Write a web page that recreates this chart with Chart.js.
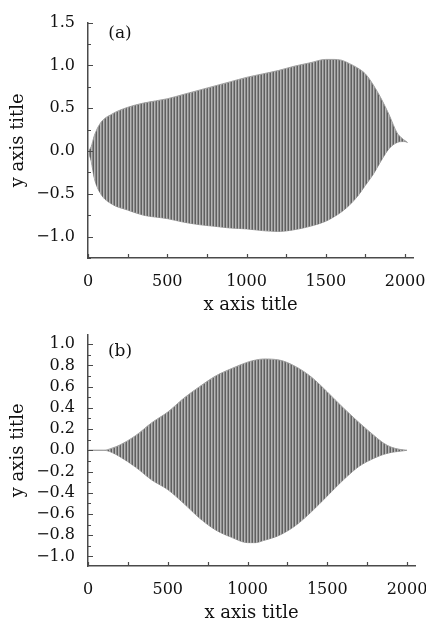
<!DOCTYPE html>
<html lang="en">
<head>
    <meta charset="UTF-8">
    <title>Envelope signals</title>
    <script src="https://cdn.jsdelivr.net/npm/chart.js"></script>
    <style>
        html, body { margin: 0; padding: 0; background: #fff; }
        canvas { display: block; }
    </style>
</head>
<body>
    <canvas id="chartA" width="426" height="312"></canvas>
    <canvas id="chartB" width="426" height="310"></canvas>

    <script>
        // ticks
        const xTicks = [0, 500, 1000, 1500, 2000];
        const aYTicks = [-1.0, -0.5, 0.0, 0.5, 1.0, 1.5];
        const bYTicks = [-1.0, -0.8, -0.6, -0.4, -0.2, 0.0, 0.2, 0.4, 0.6, 0.8, 1.0];

        // (a) envelope of the oscillation
        const aX     = [0, 20, 40, 80, 150, 250, 350, 500, 600, 700, 800, 900, 1000, 1100, 1200, 1300, 1400, 1500, 1550, 1600, 1650, 1700, 1750, 1800, 1850, 1900, 1950, 1980, 2000, 2015];
        const aUpper = [0, 0.05, 0.18, 0.33, 0.43, 0.51, 0.56, 0.61, 0.66, 0.71, 0.76, 0.81, 0.86, 0.90, 0.94, 0.99, 1.03, 1.07, 1.07, 1.06, 1.02, 0.97, 0.90, 0.77, 0.61, 0.42, 0.21, 0.15, 0.12, 0.10];
        const aLower = [0, -0.12, -0.32, -0.50, -0.62, -0.69, -0.75, -0.79, -0.83, -0.86, -0.88, -0.90, -0.91, -0.93, -0.94, -0.92, -0.88, -0.82, -0.77, -0.71, -0.63, -0.53, -0.40, -0.27, -0.11, 0.03, 0.10, 0.11, 0.11, 0.10];

        // (b) envelope
        const bX     = [0, 100, 150, 200, 300, 400, 500, 600, 700, 800, 900, 1000, 1050, 1100, 1200, 1300, 1400, 1500, 1600, 1700, 1800, 1850, 1900, 1950, 2000];
        const bUpper = [0, 0, 0.02, 0.05, 0.14, 0.26, 0.36, 0.49, 0.60, 0.70, 0.77, 0.83, 0.85, 0.86, 0.85, 0.79, 0.69, 0.55, 0.40, 0.26, 0.13, 0.07, 0.03, 0.01, 0];
        const bLower = [0, 0, -0.02, -0.06, -0.16, -0.28, -0.37, -0.50, -0.64, -0.75, -0.82, -0.87, -0.87, -0.85, -0.80, -0.71, -0.58, -0.43, -0.28, -0.15, -0.07, -0.04, -0.02, -0.01, 0];

        const FONT = "'DejaVu Serif', 'Liberation Serif', serif";
        const AXIS = '#4a4a4a';
        const INK = '#111';

        // vertical stripes to look like the dense oscillation
        function stripePattern(ctx) {
            const p = document.createElement('canvas');
            p.width = 3; p.height = 1;
            const c = p.getContext('2d');
            c.fillStyle = '#606060'; c.fillRect(0, 0, 1, 1);
            c.fillStyle = '#b6b6b6'; c.fillRect(1, 0, 1, 1);
            c.fillStyle = '#8a8a8a'; c.fillRect(2, 0, 1, 1);
            return ctx.createPattern(p, 'repeat');
        }

        function fmt(v) {
            const s = Math.abs(v).toFixed(1);
            return v < 0 ? '\u2212' + s : s;
        }

        // inward tick marks + panel label
        const decor = {
            id: 'decor',
            afterDraw(chart, args, opts) {
                const ctx = chart.ctx, xs = chart.scales.x, ys = chart.scales.y;
                const a = chart.chartArea;
                ctx.save();
                ctx.strokeStyle = AXIS;
                ctx.lineWidth = 1.2;
                ctx.beginPath();
                for (let v = 0; v <= 2000; v += 250) {
                    const px = Math.round(xs.getPixelForValue(v)) + 0.5;
                    ctx.moveTo(px, a.bottom);
                    ctx.lineTo(px, a.bottom - 4);
                }
                for (let v = opts.minorFrom; v <= opts.minorTo + 1e-9; v += opts.minorStep) {
                    const py = Math.round(ys.getPixelForValue(v)) + 0.5;
                    const major = opts.major.some(t => Math.abs(t - v) < 1e-6);
                    ctx.moveTo(a.left, py);
                    ctx.lineTo(a.left + (major ? 5 : 3), py);
                }
                ctx.stroke();
                ctx.fillStyle = INK;
                ctx.font = '17px ' + FONT;
                ctx.textAlign = 'center';
                ctx.textBaseline = 'middle';
                ctx.fillText(opts.label, a.left + 32, a.top + opts.labelDy);
                ctx.restore();
            }
        };

        function makeChart(id, xs, up, lo, yTicks, yMin, yMax, minor, label, pad) {
            const ctx = document.getElementById(id).getContext('2d');
            const fillPat = stripePattern(ctx);
            return new Chart(ctx, {
                type: 'line',
                data: {
                    datasets: [{
                        data: xs.map((x, i) => ({ x: x, y: up[i] })),
                        borderColor: '#a0a0a0',
                        borderWidth: 1,
                        backgroundColor: fillPat,
                        fill: '+1',
                        pointRadius: 0,
                        cubicInterpolationMode: 'monotone'
                    }, {
                        data: xs.map((x, i) => ({ x: x, y: lo[i] })),
                        borderColor: '#a0a0a0',
                        borderWidth: 1,
                        fill: false,
                        pointRadius: 0,
                        cubicInterpolationMode: 'monotone'
                    }]
                },
                options: {
                    responsive: false,
                    animation: false,
                    layout: { padding: { top: pad.top, right: pad.right, bottom: 0, left: 0 } },
                    plugins: {
                        legend: { display: false },
                        tooltip: { enabled: false },
                        decor: { minorFrom: minor.from, minorTo: minor.to, minorStep: minor.step, major: yTicks, label: label.text, labelDy: label.dy }
                    },
                    scales: {
                        x: {
                            type: 'linear',
                            min: 0,
                            max: 2050,
                            afterBuildTicks: s => { s.ticks = xTicks.map(v => ({ value: v })); },
                            afterFit: s => { s.height = pad.xHeight; s.paddingLeft = 0; s.paddingRight = 0; },
                            grid: { display: false, drawTicks: false },
                            border: { color: AXIS, width: 1.5 },
                            ticks: { padding: 14, color: INK, maxRotation: 0, callback: v => String(v), font: { family: FONT, size: 16 } },
                            title: { display: true, text: 'x axis title', color: INK, padding: { top: 0, bottom: pad.xTitle }, font: { family: FONT, size: 18, lineHeight: 1 } }
                        },
                        y: {
                            min: yMin,
                            max: yMax,
                            afterBuildTicks: s => { s.ticks = yTicks.map(v => ({ value: v })); },
                            afterFit: s => { s.width = 88; },
                            grid: { display: false, drawTicks: false },
                            border: { color: AXIS, width: 1.5 },
                            ticks: { padding: 13, color: INK, callback: v => fmt(v), font: { family: FONT, size: 16 } },
                            title: { display: true, text: 'y axis title', color: INK, padding: { top: 8, bottom: 0 }, font: { family: FONT, size: 18, lineHeight: 1.2 } }
                        }
                    }
                },
                plugins: [decor]
            });
        }

        makeChart('chartA', aX, aUpper, aLower, aYTicks, -1.25, 1.5,
            { from: -1.25, to: 1.5, step: 0.25 }, { text: '(a)', dy: 11 },
            { top: 21, right: 13, xHeight: 54, xTitle: -2 });

        makeChart('chartB', bX, bUpper, bLower, bYTicks, -1.09, 1.09,
            { from: -1.0, to: 1.0, step: 0.1 }, { text: '(b)', dy: 17 },
            { top: 18, right: 11, xHeight: 56, xTitle: 0 });
    </script>
</body>
</html>
